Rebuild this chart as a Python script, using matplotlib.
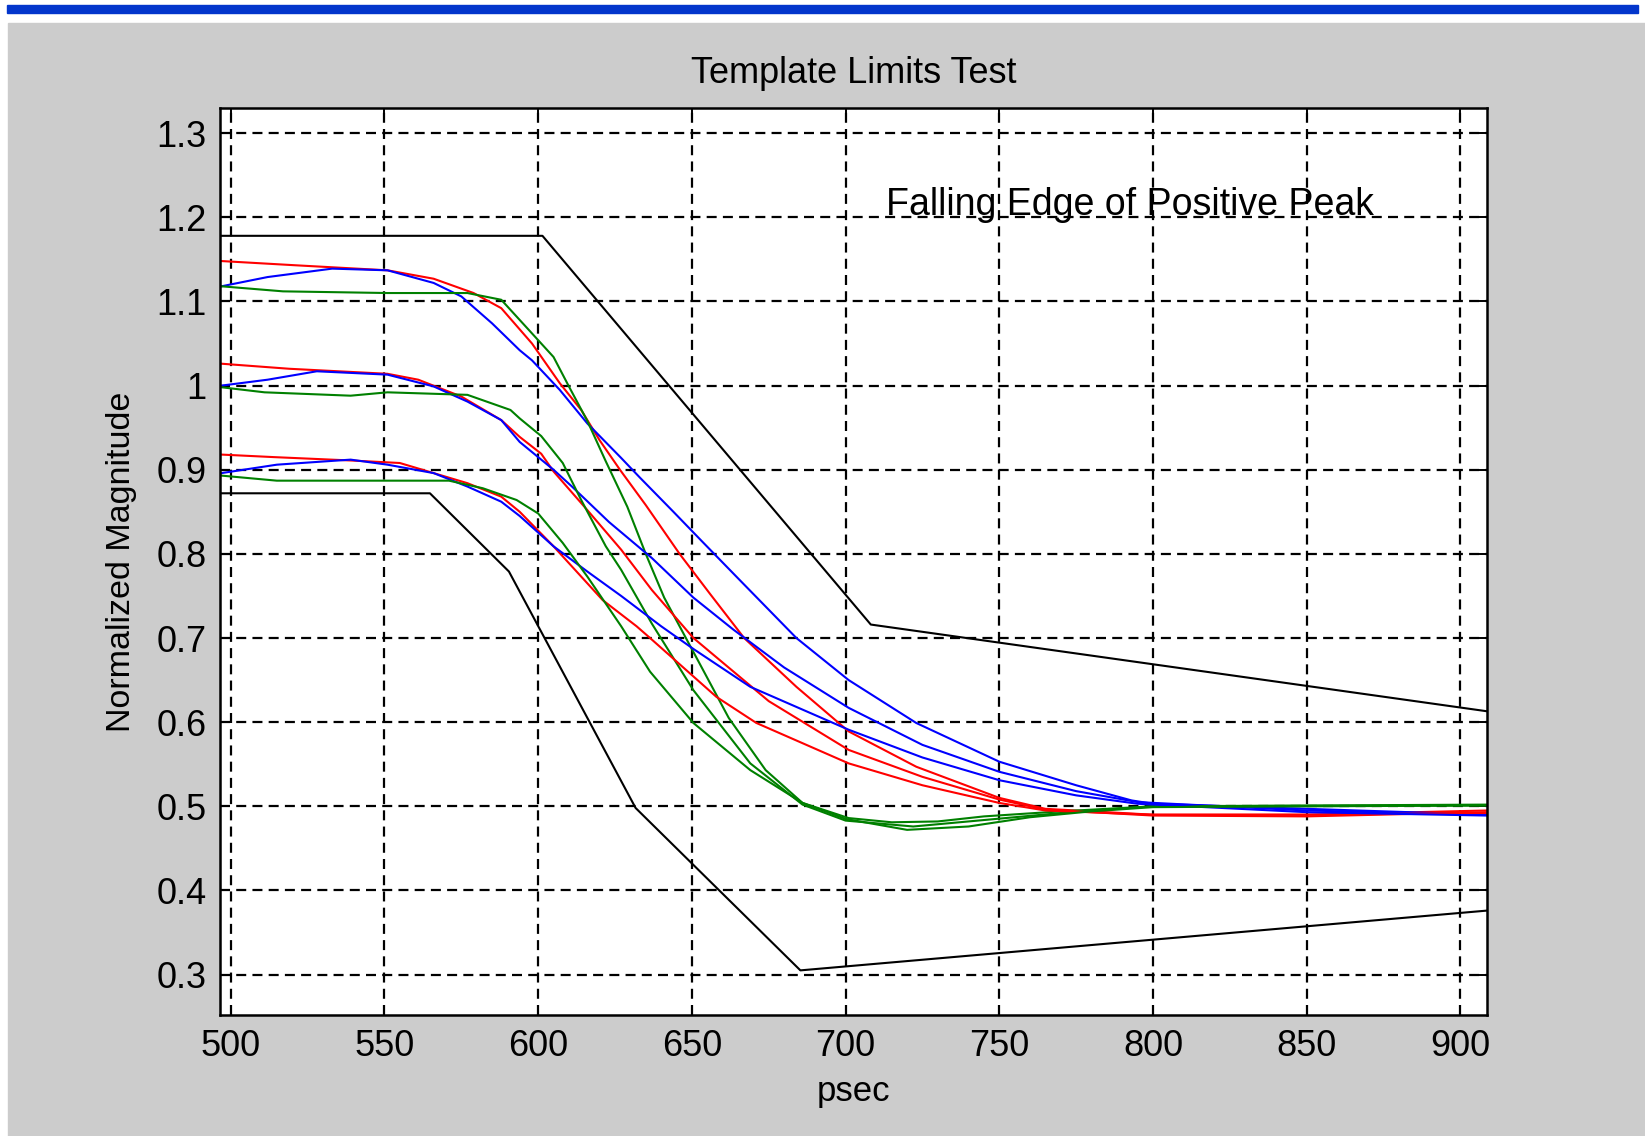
import matplotlib.pyplot as plt
import matplotlib.patches as patches

# template limits (psec, normalized magnitude)
upper_x = [496.6, 601.4, 708.2, 908.5]
upper_y = [1.178, 1.178, 0.716, 0.613]
lower_x = [496.6, 564.8, 590.5, 631.7, 685.3, 908.5]
lower_y = [0.872, 0.872, 0.779, 0.498, 0.305, 0.376]

# top group
red_top_x = [497, 521, 551, 566, 579, 588, 598, 607, 614, 620, 626.6, 635, 646, 656, 667, 684, 701, 723, 750, 765, 800, 850, 908.5]
red_top_y = [1.148, 1.143, 1.137, 1.127, 1.110, 1.092, 1.050, 1.003, 0.971, 0.935, 0.900, 0.858, 0.800, 0.752, 0.700, 0.642, 0.589, 0.547, 0.510, 0.497, 0.490, 0.490, 0.495]
blue_top_x = [497, 512, 533, 551, 566, 575, 585, 594, 598, 607, 616, 627, 633, 644, 653, 665, 684, 701, 723, 750, 775, 793, 800, 850, 908.5]
blue_top_y = [1.118, 1.129, 1.139, 1.137, 1.122, 1.106, 1.074, 1.042, 1.030, 0.995, 0.955, 0.914, 0.891, 0.850, 0.816, 0.771, 0.700, 0.650, 0.599, 0.553, 0.525, 0.507, 0.503, 0.497, 0.490]
green_top_x = [497, 517, 551, 577, 588, 598, 605, 610, 616, 622, 629, 635, 641, 651, 662, 674, 686, 701, 715, 730, 745, 770, 800, 908.5]
green_top_y = [1.118, 1.112, 1.110, 1.110, 1.102, 1.062, 1.034, 0.999, 0.958, 0.910, 0.856, 0.800, 0.748, 0.680, 0.605, 0.543, 0.504, 0.486, 0.481, 0.482, 0.488, 0.494, 0.500, 0.502]

# middle group
red_mid_x = [497, 519, 551, 561, 575, 588, 594, 601, 605, 616, 627, 637, 650.5, 675, 701, 725, 750, 765, 800, 850, 908.5]
red_mid_y = [1.026, 1.020, 1.014, 1.007, 0.987, 0.959, 0.939, 0.919, 0.898, 0.852, 0.805, 0.757, 0.700, 0.625, 0.567, 0.535, 0.508, 0.496, 0.489, 0.488, 0.493]
blue_mid_x = [497, 512, 528, 551, 566, 577, 588, 594, 605, 611, 623, 637, 650.5, 663.5, 680, 701, 725, 750, 775, 795, 850, 908.5]
blue_mid_y = [1.000, 1.007, 1.017, 1.013, 0.999, 0.981, 0.959, 0.933, 0.900, 0.880, 0.838, 0.795, 0.748, 0.710, 0.665, 0.617, 0.573, 0.541, 0.518, 0.505, 0.495, 0.490]
green_mid_x = [497, 511, 539, 551, 577, 591, 594, 601, 608, 614, 622, 627, 637, 650.5, 669, 686, 700, 722, 740, 770, 800, 908.5]
green_mid_y = [0.998, 0.992, 0.988, 0.992, 0.989, 0.971, 0.961, 0.940, 0.908, 0.864, 0.809, 0.781, 0.717, 0.638, 0.551, 0.502, 0.483, 0.476, 0.482, 0.492, 0.500, 0.501]

# bottom group
red_bot_x = [497, 514, 539, 555, 566, 577, 588, 594, 605, 616, 621, 632, 636.4, 658, 671, 701, 725, 750, 765, 800, 850, 908.5]
red_bot_y = [0.918, 0.915, 0.911, 0.908, 0.896, 0.884, 0.868, 0.850, 0.809, 0.765, 0.745, 0.714, 0.700, 0.630, 0.599, 0.551, 0.525, 0.504, 0.495, 0.490, 0.490, 0.492]
blue_bot_x = [497, 515, 539, 551, 566, 577, 588, 594, 605, 616, 627, 640, 650.5, 669, 701, 725, 750, 775, 795, 850, 908.5]
blue_bot_y = [0.896, 0.906, 0.912, 0.906, 0.896, 0.880, 0.862, 0.845, 0.809, 0.779, 0.750, 0.714, 0.687, 0.642, 0.591, 0.558, 0.531, 0.513, 0.503, 0.493, 0.489]
green_bot_x = [497, 515, 551, 571, 582, 593, 600, 608, 616, 627, 636.4, 650.5, 669, 686, 700, 720, 740, 760, 780, 800, 908.5]
green_bot_y = [0.893, 0.887, 0.887, 0.887, 0.878, 0.864, 0.848, 0.813, 0.773, 0.714, 0.660, 0.599, 0.543, 0.504, 0.485, 0.472, 0.476, 0.487, 0.494, 0.499, 0.501]

xticks = [500, 550, 600, 650, 700, 750, 800, 850, 900]
yticks = [0.3, 0.4, 0.5, 0.6, 0.7, 0.8, 0.9, 1, 1.1, 1.2, 1.3]
ytick_labels = ['0.3', '0.4', '0.5', '0.6', '0.7', '0.8', '0.9', '1', '1.1', '1.2', '1.3']

plt.rcParams['font.family'] = ['Liberation Sans', 'DejaVu Sans']

fig = plt.figure(figsize=(16.45, 11.36), dpi=100, facecolor='white')

# gray window background and blue title strip
fig.patches.append(patches.Rectangle((8 / 1645, 0), 1, (1136 - 23) / 1136,
                                     transform=fig.transFigure, color='#cccccc', zorder=-10))
fig.patches.append(patches.Rectangle((7 / 1645, (1136 - 13) / 1136), (1638 - 7) / 1645, 8 / 1136,
                                     transform=fig.transFigure, color='#0336cc', zorder=-10))

ax = fig.add_axes([0.1339, 0.1061, 0.7698, 0.7989])
ax.set_facecolor('white')

lw = 1.5
ax.plot(upper_x, upper_y, color='black', lw=lw)
ax.plot(lower_x, lower_y, color='black', lw=lw)

for xs, ys, c in [
    (red_top_x, red_top_y, 'red'),
    (blue_top_x, blue_top_y, 'blue'),
    (green_top_x, green_top_y, 'green'),
    (red_mid_x, red_mid_y, 'red'),
    (blue_mid_x, blue_mid_y, 'blue'),
    (green_mid_x, green_mid_y, 'green'),
    (red_bot_x, red_bot_y, 'red'),
    (blue_bot_x, blue_bot_y, 'blue'),
    (green_bot_x, green_bot_y, 'green'),
]:
    ax.plot(xs, ys, color=c, lw=lw)

ax.set_xlim(496.6, 908.5)
ax.set_ylim(0.2514, 1.330)
ax.set_xticks(xticks)
ax.set_yticks(yticks)
ax.set_yticklabels(ytick_labels)

ax.grid(True, color='black', linestyle=(0, (4.5, 2.8)), linewidth=1.6)
ax.tick_params(direction='in', length=7, width=1.4, top=True, right=True,
               labelsize=26, pad=10)
for s in ax.spines.values():
    s.set_linewidth(1.8)

ax.set_title('Template Limits Test', fontsize=26, pad=18)
ax.set_xlabel('psec', fontsize=25, labelpad=8)
ax.set_ylabel('Normalized Magnitude', fontsize=24.5, labelpad=14)

ax.text(713.3, 1.215, 'Falling Edge of Positive Peak', fontsize=27,
        ha='left', va='center')

fig.savefig('out.png', dpi=100, facecolor=fig.get_facecolor())
